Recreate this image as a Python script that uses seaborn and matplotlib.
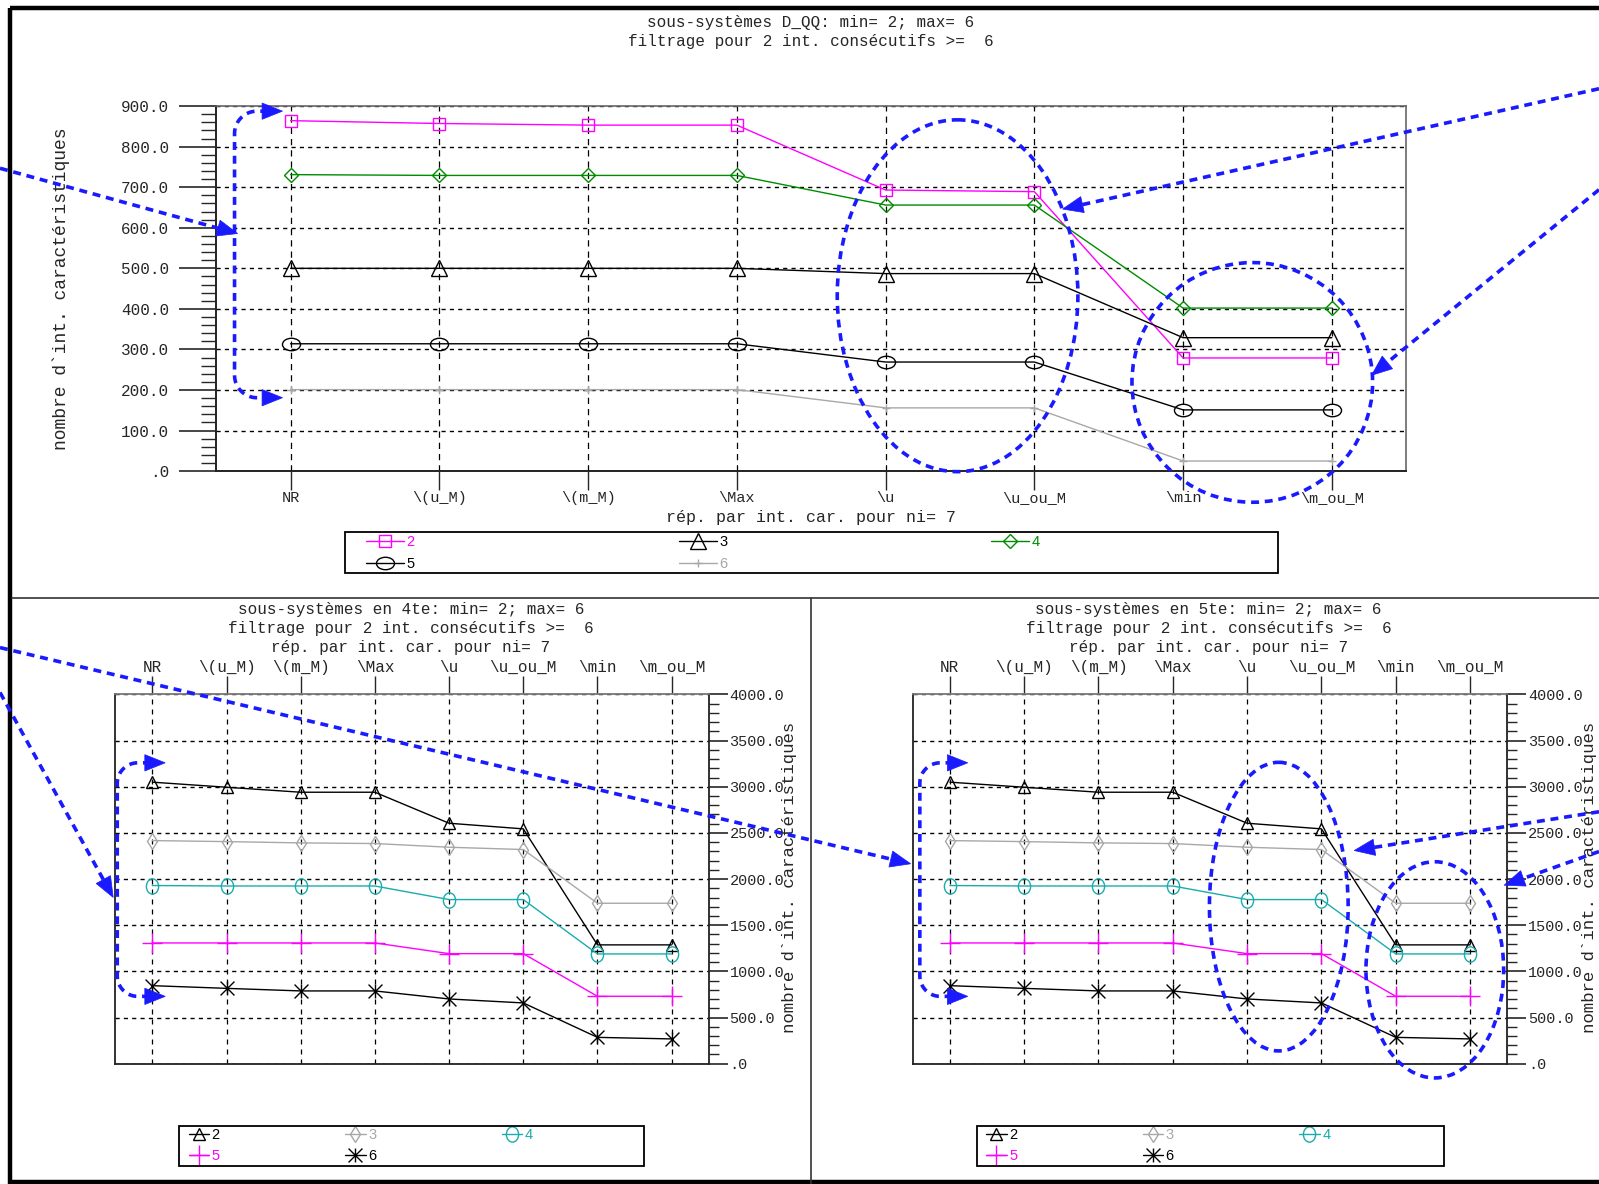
import numpy as np
import matplotlib
matplotlib.use("Agg")
import matplotlib.pyplot as plt
from matplotlib.path import Path
from matplotlib.patches import Ellipse, Polygon, Rectangle
from matplotlib.ticker import MultipleLocator, FuncFormatter
import seaborn as sns

# ---------------- data ----------------
categories = ["NR", "\\(u_M)", "\\(m_M)", "\\Max", "\\u", "\\u_ou_M", "\\min", "\\m_ou_M"]
series_labels = ["2", "3", "4", "5", "6"]

# top panel: sous-systèmes D_QQ
top_s2 = [864, 857, 853, 853, 693, 689, 279, 279]
top_s3 = [500, 500, 500, 500, 487, 487, 329, 329]
top_s4 = [731, 729, 729, 729, 656, 656, 402, 402]
top_s5 = [314, 314, 314, 314, 269, 269, 151, 151]
top_s6 = [201, 201, 201, 201, 156, 156, 25, 25]

# bottom panels: sous-systèmes en 4te / en 5te
q4_s2 = [3050, 2995, 2941, 2941, 2605, 2544, 1287, 1287]
q4_s3 = [2417, 2406, 2392, 2385, 2345, 2320, 1738, 1738]
q4_s4 = [1930, 1925, 1925, 1925, 1778, 1778, 1189, 1189]
q4_s5 = [1308, 1308, 1308, 1308, 1192, 1192, 730, 730]
q4_s6 = [845, 816, 788, 788, 701, 658, 285, 268]

q5_s2 = [3050, 2995, 2941, 2941, 2605, 2544, 1287, 1287]
q5_s3 = [2417, 2406, 2392, 2385, 2345, 2320, 1738, 1738]
q5_s4 = [1930, 1925, 1925, 1925, 1778, 1778, 1189, 1189]
q5_s5 = [1308, 1308, 1308, 1308, 1192, 1192, 730, 730]
q5_s6 = [845, 816, 788, 788, 701, 658, 285, 268]

top_title = "sous-systèmes D_QQ: min= 2; max= 6\nfiltrage pour 2 int. consécutifs >=  6"
q4_title = "sous-systèmes en 4te: min= 2; max= 6\nfiltrage pour 2 int. consécutifs >=  6\nrép. par int. car. pour ni= 7"
q5_title = "sous-systèmes en 5te: min= 2; max= 6\nfiltrage pour 2 int. consécutifs >=  6\nrép. par int. car. pour ni= 7"
xlabel = "rép. par int. car. pour ni= 7"
ylabel = "nombre d`int. caractéristiques"

# ---------------- style ----------------
sns.set_style("white")
MONO = ["Liberation Mono", "DejaVu Sans Mono"]
SANS = ["Liberation Sans", "DejaVu Sans"]
plt.rcParams["font.family"] = MONO

MAG = "#ff00ff"
GRN = "#008c00"
GRY = "#a8a8a8"
CYN = "#1aacac"
BLK = "#000000"
BLUE = "#1a1aff"

circ = Path.unit_circle()
ell_wide = Path(circ.vertices * np.array([1.45, 1.0]), circ.codes)
ell_tall = Path(circ.vertices * np.array([0.8, 1.0]), circ.codes)
M, L = Path.MOVETO, Path.LINETO
star = Path([(-1, -1), (1, 1), (-1, 1), (1, -1), (0, -1), (0, 1)], [M, L, M, L, M, L])

W, H = 1568.0, 1161.0
fig = plt.figure(figsize=(15.99, 11.84), dpi=100)
fig.patch.set_facecolor("white")


def rect(x0, y0, x1, y1):
    return [x0 / W, 1 - y1 / H, (x1 - x0) / W, (y1 - y0) / H]


def fmt(v, pos):
    return ".0" if abs(v) < 1e-9 else f"{v:.1f}"


xs = np.arange(len(categories))


def draw(ax, y, color, marker, ms, label, lw=1.0, mew=1.0):
    sns.lineplot(x=xs, y=y, ax=ax, color=color, marker=marker, markersize=ms,
                 mfc="none", mec=color, mew=mew, lw=lw, label=label, zorder=5)


def rowwise(h, l):
    # legend filled row by row (2,3,4 / 5,6) as in the original
    order = [0, 3, 1, 4, 2]
    return [h[i] for i in order], [l[i] for i in order]


def legend(ax, x, y, handlelength, columnspacing):
    h, l = rowwise(*ax.get_legend_handles_labels())
    ax.legend(h, l, ncol=3, loc="upper left", bbox_to_anchor=(x / W, 1 - y / H),
              bbox_transform=fig.transFigure, borderaxespad=0, frameon=False,
              labelcolor="linecolor", prop={"family": SANS, "size": 10.5},
              handlelength=handlelength, handletextpad=0.18, borderpad=0.0,
              labelspacing=0.5, columnspacing=columnspacing)


# ---------------- top panel ----------------
ax = fig.add_axes(rect(212, 104, 1379, 462))
draw(ax, top_s2, MAG, "s", 9, series_labels[0])
draw(ax, top_s3, BLK, "^", 11, series_labels[1])
draw(ax, top_s4, GRN, "D", 7.5, series_labels[2])
draw(ax, top_s5, BLK, ell_wide, 13, series_labels[3])
draw(ax, top_s6, GRY, "+", 6, series_labels[4])
ax.set_xlim(-0.5, 7.5)
ax.set_ylim(0, 900)
ax.set_xticks(xs)
ax.set_xticklabels(categories, fontsize=11)
ax.yaxis.set_major_locator(MultipleLocator(100))
ax.yaxis.set_minor_locator(MultipleLocator(20))
ax.yaxis.set_major_formatter(FuncFormatter(fmt))
ax.tick_params(axis="y", which="major", direction="out", length=27, width=1.2, labelsize=11.5, pad=7, left=True)
ax.tick_params(axis="y", which="minor", direction="out", length=11, width=1.0, left=True)
ax.tick_params(axis="x", which="major", direction="out", length=14, width=1.0, pad=0, bottom=True)
ax.grid(False)
ax.yaxis.grid(True, ls=(0, (3, 3)), color="black", lw=1.0)
ax.xaxis.grid(True, ls=(0, (5, 4)), color="black", lw=0.9)
for s in ["left", "bottom"]:
    ax.spines[s].set_color("#222222"); ax.spines[s].set_linewidth(1.4)
for s in ["top", "right"]:
    ax.spines[s].set_color("#666666"); ax.spines[s].set_linewidth(1.2)
ax.set_xlabel(xlabel, fontsize=12)
ax.set_ylabel(ylabel, fontsize=13)
ax.xaxis.set_label_coords(0.4996, -0.107)
ax.yaxis.set_label_coords(-0.1225, 0.5)
legend(ax, 359, 525, 2.6, 18.1)
fig.text(795 / W, 1 - 31 / H, top_title, ha="center", va="center", fontsize=11.5, linespacing=1.35)


# ---------------- bottom panels ----------------
def bottom_panel(r, data, title, title_cx, leg_xy, ylab_x):
    ax = fig.add_axes(rect(*r))
    s2, s3, s4, s5, s6 = data
    draw(ax, s2, BLK, "^", 9, series_labels[0])
    draw(ax, s3, GRY, "d", 8, series_labels[1])
    draw(ax, s4, CYN, ell_tall, 11, series_labels[2])
    draw(ax, s5, MAG, "+", 14, series_labels[3])
    draw(ax, s6, BLK, star, 10, series_labels[4])
    ax.set_xlim(-0.5, 7.5)
    ax.set_ylim(0, 4000)
    ax.xaxis.tick_top()
    ax.yaxis.tick_right()
    ax.set_xticks(xs)
    ax.set_xticklabels(categories, fontsize=11.5)
    ax.yaxis.set_major_locator(MultipleLocator(500))
    ax.yaxis.set_minor_locator(MultipleLocator(100))
    ax.yaxis.set_major_formatter(FuncFormatter(fmt))
    ax.tick_params(axis="y", which="major", direction="out", length=14, width=1.2, labelsize=11, pad=1,
                   right=True, left=False)
    ax.tick_params(axis="y", which="minor", direction="out", length=7, width=1.0, right=True, left=False)
    ax.tick_params(axis="x", which="major", direction="out", length=13, width=1.0, pad=1, top=True, bottom=False)
    ax.grid(False)
    ax.yaxis.grid(True, ls=(0, (3, 3)), color="black", lw=1.0)
    ax.xaxis.grid(True, ls=(0, (4, 4)), color="black", lw=0.9)
    for s in ax.spines.values():
        s.set_color("#222222"); s.set_linewidth(1.3)
    ax.spines["top"].set_color("#777777")
    ax.yaxis.set_label_position("right")
    ax.set_ylabel(ylabel, fontsize=12.5)
    ax.yaxis.set_label_coords(ylab_x, 0.505)
    legend(ax, leg_xy[0], leg_xy[1], 1.4, 8.6)
    fig.text(title_cx / W, 1 - 616 / H, title, ha="center", va="center", fontsize=11.5, linespacing=1.35)
    return ax


bottom_panel((113, 681, 695, 1043), (q4_s2, q4_s3, q4_s4, q4_s5, q4_s6), q4_title, 403,
             (185, 1106), 1.123)
bottom_panel((895, 681, 1478, 1043), (q5_s2, q5_s3, q5_s4, q5_s5, q5_s6), q5_title, 1185,
             (967, 1106), 1.125)

# ---------------- overlay: frame and blue annotations ----------------
ov = fig.add_axes([0, 0, 1, 1], zorder=20)
ov.set_xlim(0, W)
ov.set_ylim(H, 0)
ov.axis("off")
ov.patch.set_alpha(0)

# legend boxes
for (x0, y0, x1, y1) in [(338, 522, 1253, 562), (176, 1104, 632, 1143), (958, 1104, 1416, 1143)]:
    ov.add_patch(Rectangle((x0, y0), x1 - x0, y1 - y0, fill=False, ec="black", lw=1.3))

# page frame
ov.plot([10, W], [8, 8], color="black", lw=3.2, solid_capstyle="butt")
ov.plot([10, 10], [8, H], color="black", lw=3.2, solid_capstyle="butt")
ov.plot([10, W], [H - 2, H - 2], color="black", lw=3.2, solid_capstyle="butt")
ov.plot([12, W], [586, 586], color="#333333", lw=1.2)
ov.plot([795, 795], [586, H], color="#333333", lw=1.2)

DASH = (0, (2.2, 1.6))
LW = 2.6


def dline(pts):
    pts = np.asarray(pts, float)
    ov.plot(pts[:, 0], pts[:, 1], color=BLUE, lw=LW, ls=DASH, dash_capstyle="butt")


def head(tip, frm, Lh=20, Wh=16):
    tip = np.array(tip, float)
    d = tip - np.array(frm, float)
    d /= np.hypot(*d)
    n = np.array([-d[1], d[0]])
    base = tip - d * Lh
    ov.add_patch(Polygon([tip, base + n * Wh / 2, base - n * Wh / 2], closed=True,
                         facecolor=BLUE, edgecolor=BLUE, lw=0.5))


def arrow(start, tip):
    start = np.array(start, float); tip = np.array(tip, float)
    d = tip - start
    d /= np.hypot(*d)
    dline([start, tip - d * 14])
    head(tip, start)


def bracket(x, ytop, ybot, tipx, r=22):
    t1 = np.linspace(np.pi, 1.5 * np.pi, 20)
    top_arc = np.c_[x + r + r * np.cos(t1), ytop + r + r * np.sin(t1)]
    t2 = np.linspace(0.5 * np.pi, np.pi, 20)[::-1]
    bot_arc = np.c_[x + r + r * np.cos(t2), ybot - r + r * np.sin(t2)]
    pts = np.vstack([[[tipx - 14, ytop]], top_arc[::-1], bot_arc, [[tipx - 14, ybot]]])
    dline(pts)
    head((tipx, ytop), (x, ytop))
    head((tipx, ybot), (x, ybot))


def ellipse(cx, cy, w, h):
    ov.add_patch(Ellipse((cx, cy), w, h, fill=False, ec=BLUE, lw=LW, ls=DASH))


# top panel annotations
arrow((0, 165), (233, 229))
bracket(230, 109, 390, 277)
ellipse(939, 290, 236, 345)
ellipse(1228, 375, 236, 235)
arrow((1568, 87), (1042, 205))
arrow((1568, 186), (1345, 368))

# bottom-left annotations
arrow((0, 635), (893, 847))
arrow((0, 679), (111, 880))
bracket(115, 748, 977, 162, r=20)

# bottom-right annotations
bracket(902, 748, 977, 949, r=20)
ellipse(1254, 889, 136, 283)
ellipse(1407, 951, 135, 212)
arrow((1568, 796), (1328, 834))
arrow((1568, 835), (1475, 868))

fig.savefig("out.png", dpi=100, facecolor="white")
